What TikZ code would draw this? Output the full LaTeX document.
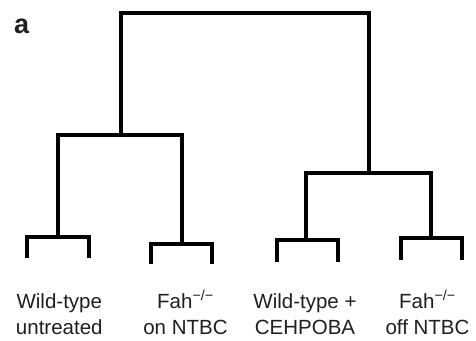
\documentclass[tikz,border=0pt]{standalone}
\usepackage{fontspec}
\setmainfont{Liberation Sans}
\begin{document}
\begin{tikzpicture}[x=1pt,y=-1pt,
  branch/.style={line width=4pt, line join=miter, line cap=butt},
  lab/.style={anchor=base, inner sep=0pt, text=black!88, font=\fontsize{20.5}{25}\selectfont}]
\useasboundingbox (0,0) rectangle (476,340);

% junction points of the dendrogram
\coordinate (root)  at (244.7,12.7);
\coordinate (Lnode) at (120.7,135.3);
\coordinate (Rnode) at (368.7,172.7);
\coordinate (A) at (58,237);
\coordinate (B) at (182,244);
\coordinate (C) at (306,239.7);
\coordinate (D) at (430.5,237.7);
% leaf tips
\coordinate (a1) at (27,258.3);   \coordinate (a2) at (89,258.3);
\coordinate (b1) at (151,264.3);  \coordinate (b2) at (212,264.3);
\coordinate (c1) at (277,262.3);  \coordinate (c2) at (337.7,262.3);
\coordinate (d1) at (401,260);    \coordinate (d2) at (462,260);

% branches
\draw[branch] (Lnode) |- (root) -| (Rnode);
\draw[branch] (A) |- (Lnode) -| (B);
\draw[branch] (C) |- (Rnode) -| (D);
\draw[branch] (a1) |- (A) -| (a2);
\draw[branch] (b1) |- (B) -| (b2);
\draw[branch] (c1) |- (C) -| (c2);
\draw[branch] (d1) |- (D) -| (d2);

% panel letter
\node[anchor=base west, inner sep=0pt, text=black!88, font=\fontsize{27}{27}\selectfont\bfseries] (panel) at (14,33.5) {a};

% sample labels
\node[lab] (wt1)  at (59.3,308) {Wild-type};
\node[lab] (wt2)  at (59.3,334.5) {untreated};
\node[lab] (on1)  at (185.5,308) {Fah\textsuperscript{−/−}};
\node[lab] (on2)  at (185.5,334.5) {on NTBC};
\node[lab] (ce1)  at (305,308) {Wild-type +};
\node[lab] (ce2)  at (305,334.5) {CEHPOBA};
\node[lab] (off1) at (427.5,308) {Fah\textsuperscript{−/−}};
\node[lab] (off2) at (427.5,334.5) {off NTBC};
\end{tikzpicture}
\end{document}
